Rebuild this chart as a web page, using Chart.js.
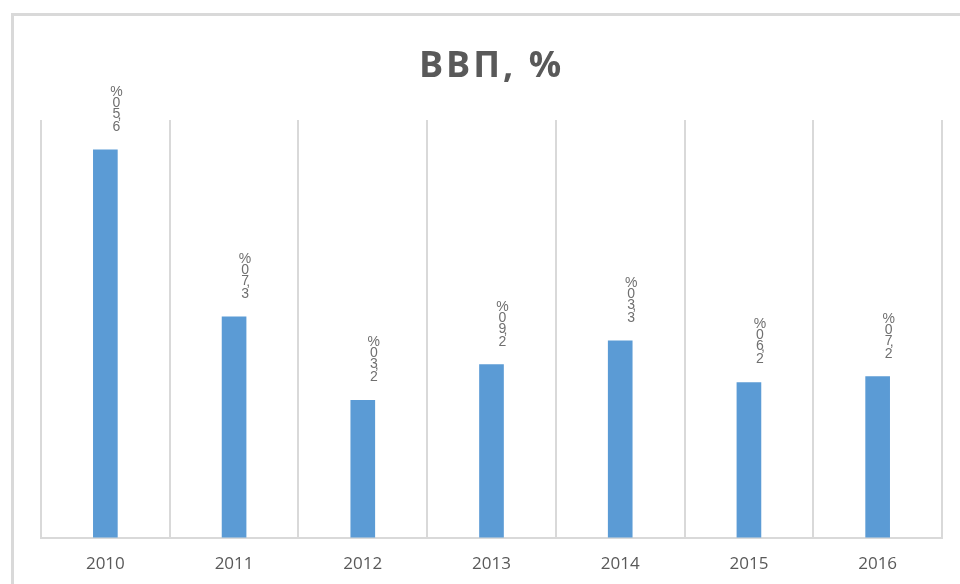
<!DOCTYPE html>
<html>
<head>
<meta charset="utf-8">
<script src="https://cdn.jsdelivr.net/npm/chart.js@4"></script>
<style>
    body { margin: 0; background: #fff; }
    #wrap { position: relative; width: 960px; height: 584px; overflow: hidden; }
    #frame {
        position: absolute; left: 11px; top: 13px; width: 980px; height: 600px;
        border-left: 3px solid #d9d9d9; border-top: 3px solid #d9d9d9;
    }
    canvas { position: absolute; left: 0; top: 0; }
</style>
</head>
<body>
<div id="wrap">
    <div id="frame"></div>
    <canvas id="chart" width="960" height="602"></canvas>
</div>
<script>
// данные
const years = ['2010', '2011', '2012', '2013', '2014', '2015', '2016'];
const gdp = [6.5, 3.7, 2.3, 2.9, 3.3, 2.6, 2.7];
const gdpLabels = ['6,50%', '3,70%', '2,30%', '2,90%', '3,30%', '2,60%', '2,70%'];
const chartTitle = 'ВВП, %';

// заголовок с разрядкой
const spacedTitle = {
    id: 'spacedTitle',
    afterDraw(chart) {
        const ctx = chart.ctx;
        const area = chart.chartArea;
        ctx.save();
        ctx.fillStyle = '#595959';
        ctx.font = 'bold 36px "Open Sans", sans-serif';
        ctx.letterSpacing = '3px';
        ctx.textAlign = 'center';
        ctx.textBaseline = 'middle';
        ctx.fillText(chartTitle, (area.left + area.right) / 2, 67);
        ctx.restore();
    }
};

// подписи значений: символы стопкой снизу вверх
const stackedLabels = {
    id: 'stackedLabels',
    afterDatasetsDraw(chart) {
        const ctx = chart.ctx;
        const meta = chart.getDatasetMeta(0);
        ctx.save();
        ctx.fillStyle = '#6f6f6f';
        ctx.font = '14px "Liberation Sans", sans-serif';
        ctx.textAlign = 'center';
        ctx.textBaseline = 'alphabetic';
        meta.data.forEach((bar, i) => {
            const x = bar.x + 11;
            let y = bar.y - 19;
            for (const ch of gdpLabels[i]) {
                if (ch === ',') {
                    ctx.fillText(ch, x + 3, y - 1);
                    y -= 2;
                    continue;
                }
                ctx.fillText(ch, x, y);
                y -= 11;
            }
        });
        ctx.restore();
    }
};

new Chart(document.getElementById('chart'), {
    type: 'bar',
    data: {
        labels: years,
        datasets: [{
            data: gdp,
            backgroundColor: '#5b9bd5',
            barThickness: 24
        }]
    },
    options: {
        responsive: false,
        animation: false,
        layout: { padding: { left: 41, right: 18, top: 120, bottom: 12 } },
        plugins: {
            legend: { display: false },
            tooltip: { enabled: false },
            title: { display: false }
        },
        scales: {
            x: {
                grid: { offset: true, color: '#d9d9d9', lineWidth: 2, drawTicks: false },
                border: { color: '#d9d9d9', width: 2 },
                ticks: { color: '#595959', padding: 16, font: { family: '"Open Sans", sans-serif', size: 17 } }
            },
            y: {
                display: false,
                min: 0,
                max: 7
            }
        }
    },
    plugins: [stackedLabels, spacedTitle]
});
</script>
</body>
</html>
